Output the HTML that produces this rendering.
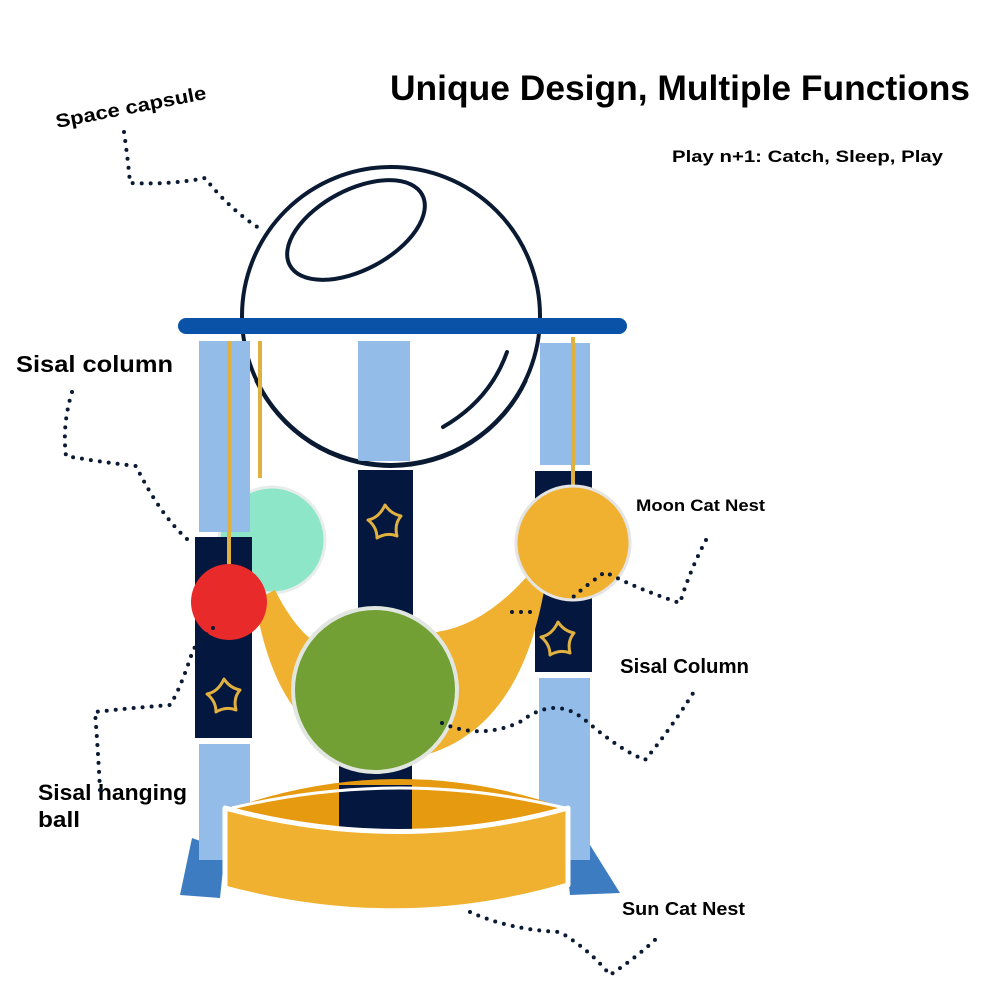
<!DOCTYPE html>
<html><head><meta charset="utf-8"><style>
html,body{margin:0;padding:0;background:#fff;}
svg{display:block;font-family:"Liberation Sans",sans-serif;font-weight:bold;}
</style></head><body>
<svg width="1000" height="1000" viewBox="0 0 1000 1000" xmlns="http://www.w3.org/2000/svg">
<rect width="1000" height="1000" fill="#fff"/>
<!-- text -->
<text x="390" y="100" font-size="35" fill="#000" textLength="580" lengthAdjust="spacingAndGlyphs">Unique Design, Multiple Functions</text>
<text x="672" y="162" font-size="17" fill="#000" textLength="271" lengthAdjust="spacingAndGlyphs">Play n+1: Catch, Sleep, Play</text>
<text x="57" y="128" font-size="19" fill="#000" transform="rotate(-11 57 128)" textLength="153" lengthAdjust="spacingAndGlyphs">Space capsule</text>
<text x="16" y="372" font-size="23" fill="#000" textLength="157" lengthAdjust="spacingAndGlyphs">Sisal column</text>
<text x="636" y="511" font-size="17" fill="#000" textLength="129" lengthAdjust="spacingAndGlyphs">Moon Cat Nest</text>
<text x="620" y="673" font-size="20" fill="#000" textLength="129" lengthAdjust="spacingAndGlyphs">Sisal Column</text>
<text x="38" y="800" font-size="22" fill="#000" textLength="149" lengthAdjust="spacingAndGlyphs">Sisal hanging</text>
<text x="38" y="827" font-size="22" fill="#000" textLength="42" lengthAdjust="spacingAndGlyphs">ball</text>
<text x="622" y="915" font-size="18" fill="#000" textLength="123" lengthAdjust="spacingAndGlyphs">Sun Cat Nest</text>

<!-- capsule -->
<circle cx="391" cy="316" r="149" fill="none" stroke="#0a1a33" stroke-width="4"/>
<ellipse cx="356" cy="230" rx="75" ry="40" transform="rotate(-28 356 230)" fill="none" stroke="#0a1a33" stroke-width="4"/>

<!-- mint (behind columns) -->
<circle cx="272" cy="540" r="53" fill="#8ee6c8" stroke="#e8ecea" stroke-width="3"/>

<!-- light blue upper columns -->
<rect x="199" y="341" width="51" height="191" fill="#93bde8"/>
<rect x="358" y="341" width="52" height="120" fill="#93bde8"/>
<rect x="540" y="343" width="50" height="122" fill="#93bde8"/>
<path d="M256 380 A149 149 0 0 0 526 380" fill="none" stroke="#0a1a33" stroke-width="4"/>
<path d="M443 427 Q490 400 507 352" fill="none" stroke="#0a1a33" stroke-width="4" stroke-linecap="round"/>
<!-- bar -->
<rect x="178" y="318" width="449" height="16" rx="8" fill="#0a52a8"/>

<!-- feet -->
<path d="M192 838 L180 895 L220 898 L225 850 Z" fill="#3d7cc0"/>
<path d="M590 845 L620 893 L570 895 L565 850 Z" fill="#3d7cc0"/>
<!-- lower light blue -->
<rect x="199" y="744" width="51" height="116" fill="#93bde8"/>
<rect x="539" y="678" width="51" height="182" fill="#93bde8"/>

<!-- dark columns -->
<rect x="195" y="537" width="57" height="201" fill="#04173f"/>
<rect x="358" y="470" width="55" height="150" fill="#04173f"/>
<rect x="535" y="471" width="57" height="201" fill="#04173f"/>
<rect x="339" y="760" width="73" height="75" fill="#04173f"/>

<!-- yellow crescent band -->
<path d="M255 600 Q280 760 400 760 Q525 745 548 565 L530 573 Q485 625 437 632 L330 650 Q300 640 275 590 Z" fill="#efb12f"/>

<!-- hang lines -->
<g stroke="#e0b040" stroke-width="4">
<line x1="229" y1="341" x2="229" y2="570"/>
<line x1="260" y1="341" x2="260" y2="478"/>
<line x1="573" y1="337" x2="573" y2="488"/>
</g>
<!-- moon nest -->
<circle cx="573" cy="543" r="57" fill="#efb12f" stroke="#e4e4e4" stroke-width="3"/>
<!-- red ball -->
<circle cx="229" cy="602" r="38" fill="#e82a2a"/>
<!-- green -->
<circle cx="375" cy="690" r="82" fill="#72a034" stroke="#e2e6e0" stroke-width="4"/>

<!-- stars -->
<g fill="none" stroke="#e0b040" stroke-width="3" stroke-linejoin="round">
<path d="M0 -19 Q6 -10 16 -8 Q9 0 12 12 Q2 8 -8 14 Q-8 3 -17 -4 Q-6 -6 0 -19 Z" transform="translate(385 524)"/>
<path d="M0 -19 Q6 -10 16 -8 Q9 0 12 12 Q2 8 -8 14 Q-8 3 -17 -4 Q-6 -6 0 -19 Z" transform="translate(224 698)"/>
<path d="M0 -19 Q6 -10 16 -8 Q9 0 12 12 Q2 8 -8 14 Q-8 3 -17 -4 Q-6 -6 0 -19 Z" transform="translate(558 641)"/>
</g>

<!-- sun nest -->
<path d="M232 808 Q400 750 565 808 Q400 850 232 808 Z" fill="#e59a10"/>
<rect x="339" y="785" width="73" height="52" fill="#04173f"/>
<path d="M225 808 Q400 855 568 808 L568 885 Q400 935 225 888 Z" fill="#efb12f" stroke="#fff" stroke-width="5" stroke-linejoin="round"/>
<path d="M232 808 Q400 768 565 808" fill="none" stroke="#fff" stroke-width="3"/>

<!-- dotted leaders (on top) -->
<g fill="none" stroke="#0a1a33" stroke-width="4" stroke-linecap="round" stroke-dasharray="0 9">
<path d="M124 132 Q128 160 130 183 Q170 185 205 178 Q230 210 262 230"/>
<path d="M72 392 Q62 425 66 456 Q100 462 136 466 Q160 515 188 540"/>
<path d="M706 540 Q690 570 680 603 Q640 590 605 572 Q580 590 570 600"/>
<path d="M512 612 L535 612"/>
<path d="M442 723 Q480 740 520 722 Q555 695 585 720 Q620 750 645 760 Q670 730 695 690"/>
<path d="M213 628 Q200 640 193 650 Q180 690 170 705 Q130 708 95 712 Q98 750 100 790"/>
<path d="M470 912 Q510 930 560 932 Q590 950 610 975 Q640 955 660 935"/>
</g>
</svg>
</body></html>
